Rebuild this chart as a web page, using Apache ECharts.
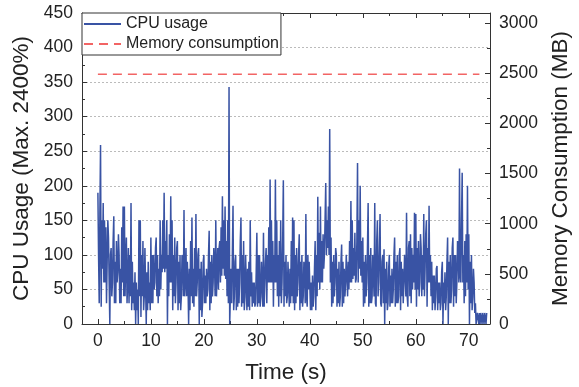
<!DOCTYPE html>
<html>
<head>
<meta charset="utf-8">
<script src="https://cdn.jsdelivr.net/npm/echarts@6/dist/echarts.min.js"></script>
<style>
  html, body { margin: 0; padding: 0; background: #fff; }
  #chart { width: 579px; height: 387px; }
</style>
</head>
<body>
<div id="chart"></div>
<script>
// CPU usage, one sample every 0.125 s (8 per row = 1 second)
const cpuStep = 0.125
const cpuValues = [
  190, 100, 30, 160, 259, 25, 150, 80,
  175, 60, 150, 60, 140, 30, 90, 150,
  125, 60, 0, 100, 110, 40, 60, 120,
  156, 30, 90, 30, 120, 60, 75, 130,
  100, 30, 80, 30, 140, 60, 170, 40,
  170, 40, 90, 125, 30, 60, 110, 30,
  100, 40, 175, 20, 90, 30, 60, 20,
  75, 0, 60, 20, 50, 0, 150, 40,
  150, 10, 100, 40, 120, 20, 40, 110,
  110, 0, 75, 20, 90, 30, 60, 20,
  125, 30, 100, 30, 100, 50, 60, 110,
  125, 40, 100, 30, 80, 40, 150, 50,
  100, 75, 150, 80, 190, 75, 120, 80,
  150, 0, 100, 40, 130, 60, 185, 60,
  150, 20, 100, 40, 125, 30, 60, 110,
  120, 20, 90, 30, 100, 20, 40, 100,
  90, 40, 165, 40, 60, 110, 40, 90,
  60, 0, 80, 20, 120, 40, 154, 30,
  80, 25, 110, 40, 159, 40, 60, 100,
  110, 0, 80, 20, 90, 10, 30, 90,
  100, 30, 70, 30, 80, 40, 50, 100,
  135, 20, 90, 30, 100, 40, 60, 110,
  90, 40, 150, 40, 40, 110, 50, 110,
  120, 60, 140, 70, 185, 80, 150, 70,
  170, 65, 120, 40, 150, 30, 343, 0,
  0, 80, 30, 100, 171, 20, 40, 90,
  100, 20, 80, 25, 80, 30, 60, 120,
  154, 25, 100, 30, 120, 20, 40, 100,
  100, 20, 80, 25, 90, 20, 150, 40,
  75, 25, 60, 30, 60, 25, 30, 75,
  132, 25, 100, 30, 100, 25, 40, 90,
  90, 25, 132, 25, 25, 90, 110, 30,
  100, 60, 140, 60, 209, 60, 150, 60,
  120, 25, 100, 60, 209, 60, 150, 40,
  100, 25, 120, 40, 150, 30, 60, 120,
  208, 25, 90, 40, 100, 30, 40, 90,
  90, 25, 80, 30, 120, 40, 154, 30,
  150, 20, 100, 30, 110, 40, 60, 100,
  130, 20, 90, 30, 100, 25, 40, 90,
  80, 30, 159, 40, 25, 100, 50, 90,
  90, 20, 60, 20, 70, 25, 40, 80,
  120, 20, 100, 40, 184, 60, 132, 50,
  170, 60, 120, 60, 130, 80, 100, 150,
  204, 100, 150, 110, 170, 100, 282, 60,
  125, 25, 90, 30, 100, 40, 60, 110,
  100, 25, 80, 30, 90, 25, 40, 90,
  115, 25, 90, 30, 80, 40, 60, 100,
  100, 40, 90, 50, 120, 60, 178, 60,
  150, 65, 110, 70, 132, 60, 65, 120,
  233, 60, 150, 80, 200, 70, 120, 60,
  125, 25, 90, 30, 100, 40, 60, 110,
  175, 25, 100, 30, 110, 30, 40, 100,
  100, 40, 175, 30, 25, 120, 150, 40,
  60, 110, 159, 30, 25, 90, 100, 30,
  108, 0, 80, 30, 90, 20, 30, 80,
  100, 25, 70, 30, 80, 30, 50, 100,
  125, 25, 90, 30, 100, 30, 40, 100,
  110, 20, 90, 40, 80, 30, 60, 100,
  100, 40, 161, 40, 25, 110, 120, 40,
  130, 30, 110, 50, 100, 60, 161, 50,
  159, 25, 110, 50, 120, 40, 60, 130,
  110, 40, 100, 50, 159, 40, 80, 130,
  150, 25, 110, 60, 171, 60, 100, 40,
  90, 20, 70, 30, 70, 20, 40, 80,
  84, 20, 60, 30, 60, 20, 30, 75,
  90, 0, 60, 30, 75, 20, 40, 90,
  125, 0, 90, 30, 100, 30, 50, 110,
  125, 25, 100, 40, 100, 30, 60, 120,
  100, 60, 225, 70, 60, 150, 219, 60,
  100, 30, 120, 40, 130, 60, 200, 50,
  130, 0, 90, 30, 100, 20, 40, 80,
  60, 16, 30, 0, 0, 16, 16, 0,
  16, 0, 16, 16, 0, 16, 16, 0,
  16, 16, 0, 16
]

// memory consumption (MB), flat over the run
const memTimes = [0, 72]
const memValues = [2490, 2490]

const xMajor = [0, 10, 20, 30, 40, 50, 60, 70]
const xMinor = [5, 15, 25, 35, 45, 55, 65]
const memTicks = [0, 500, 1000, 1500, 2000, 2500, 3000]
const memMinorTicks = [250, 750, 1250, 1750, 2250, 2750]

const font = 'Liberation Sans, Arial, sans-serif'
const ink = '#222'
const axisColor = '#333'
const tickFont = 17.5
const nameFont = 22.5

const cpuData = cpuValues.map((v, i) => [i * cpuStep, v])
const memData = memTimes.map((t, i) => [t, memValues[i]])

const chart = echarts.init(document.getElementById('chart'), null, { renderer: 'canvas' })

const baseX = {
  type: 'value',
  min: -3,
  max: 74,
  splitLine: { show: false },
  axisLabel: { show: false },
  axisLine: { show: false, onZero: false }
}

chart.setOption({
  animation: false,
  textStyle: { fontFamily: font },
  grid: { left: 82, right: 89, top: 13, bottom: 63, containLabel: false, outerBoundsMode: 'none' },
  legend: {
    orient: 'vertical',
    left: 82,
    top: 13,
    itemWidth: 37,
    itemHeight: 15,
    itemGap: 4,
    padding: [3, 2, 3, 1],
    borderColor: axisColor,
    borderWidth: 1,
    borderRadius: 0,
    backgroundColor: '#fff',
    itemStyle: { opacity: 0 },
    textStyle: { fontSize: 16, color: ink, fontFamily: font },
    data: ['CPU usage', 'Memory consumption']
  },
  xAxis: [
    {
      type: 'value',
      min: -3,
      max: 74,
      position: 'bottom',
      name: 'Time (s)',
      nameLocation: 'middle',
      nameGap: 37,
      nameTextStyle: { fontSize: nameFont, color: ink },
      axisLine: { show: true, onZero: false, lineStyle: { color: axisColor, width: 1 } },
      axisTick: { inside: true, length: 5, customValues: xMajor, lineStyle: { color: axisColor } },
      axisLabel: { customValues: xMajor, fontSize: tickFont, color: ink, margin: 8 },
      splitLine: { show: false }
    },
    Object.assign({}, baseX, {
      position: 'bottom',
      axisTick: { inside: true, length: 3, customValues: xMinor, lineStyle: { color: axisColor } }
    }),
    Object.assign({}, baseX, {
      position: 'top',
      axisLine: { show: true, onZero: false, lineStyle: { color: axisColor, width: 1 } },
      axisTick: { inside: true, length: 5, customValues: xMajor, lineStyle: { color: axisColor } }
    }),
    Object.assign({}, baseX, {
      position: 'top',
      axisTick: { inside: true, length: 3, customValues: xMinor, lineStyle: { color: axisColor } }
    })
  ],
  yAxis: [
    {
      type: 'value',
      min: 0,
      max: 450,
      interval: 50,
      position: 'left',
      name: 'CPU Usage (Max. 2400%)',
      nameLocation: 'middle',
      nameGap: 38,
      nameTextStyle: { fontSize: nameFont, color: ink },
      axisLine: { show: true, onZero: false, lineStyle: { color: axisColor, width: 1 } },
      axisTick: { inside: true, length: 5, lineStyle: { color: axisColor } },
      minorTick: { show: true, splitNumber: 2, length: 3, lineStyle: { color: axisColor } },
      axisLabel: { fontSize: tickFont, color: ink, margin: 9 },
      splitLine: { show: true, lineStyle: { color: '#bbb', type: [2, 2], width: 1 } }
    },
    {
      type: 'value',
      min: 0,
      max: 3100,
      position: 'right',
      name: 'Memory Consumption (MB)',
      nameLocation: 'middle',
      nameGap: 57,
      nameRotate: 90,
      nameTextStyle: { fontSize: nameFont, color: ink },
      axisLine: { show: true, onZero: false, lineStyle: { color: axisColor, width: 1 } },
      axisTick: { inside: true, length: 5, customValues: memTicks, lineStyle: { color: axisColor } },
      axisLabel: { fontSize: tickFont, color: ink, margin: 9, customValues: memTicks, formatter: v => String(v) },
      splitLine: { show: false }
    },
    {
      type: 'value',
      min: 0,
      max: 3100,
      position: 'right',
      axisLine: { show: false, onZero: false },
      axisLabel: { show: false },
      axisTick: { inside: true, length: 3, customValues: memMinorTicks, lineStyle: { color: axisColor } },
      splitLine: { show: false }
    }
  ],
  series: [
    {
      name: 'CPU usage',
      type: 'line',
      xAxisIndex: 0,
      yAxisIndex: 0,
      symbol: 'none',
      lineStyle: { color: '#3953A4', width: 1.5 },
      itemStyle: { color: '#3953A4' },
      data: cpuData
    },
    {
      name: 'Memory consumption',
      type: 'line',
      xAxisIndex: 0,
      yAxisIndex: 1,
      symbol: 'none',
      lineStyle: { color: '#F26464', width: 1.5, type: [9, 6] },
      itemStyle: { color: '#F26464' },
      data: memData
    }
  ]
})
</script>
</body>
</html>
